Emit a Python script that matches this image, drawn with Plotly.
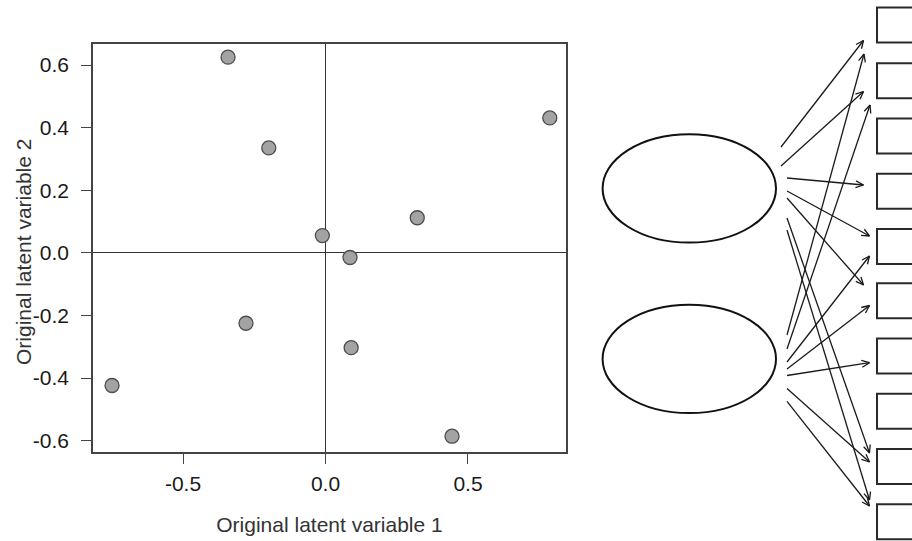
import numpy as np
import plotly.graph_objects as go

# ---------------- scatter data ----------------
latent1 = [-0.342, -0.199, 0.787, 0.322, -0.011, 0.086, -0.279, 0.090, -0.749, 0.444]
latent2 = [0.625, 0.335, 0.431, 0.112, 0.055, -0.015, -0.225, -0.303, -0.424, -0.586]

x_ticks = [-0.5, 0.0, 0.5]
x_tick_labels = ["-0.5", "0.0", "0.5"]
y_ticks = [-0.6, -0.4, -0.2, 0.0, 0.2, 0.4, 0.6]
y_tick_labels = ["-0.6", "-0.4", "-0.2", "0.0", "0.2", "0.4", "0.6"]

# ---------------- path-diagram geometry (pixel space) ----------------
factor_cy = [188.4, 358.9]
factor_cx = 689.3
factor_rx = 86.7
factor_ry = 54.2

indicator_tops = [7.6, 63.2, 118.5, 173.7, 229.0, 283.3, 338.5, 393.8, 449.0, 504.3]
indicator_h = 35.0
indicator_left = 877.0

arrow_x0 = [781, 781, 787, 787, 787, 787, 787, 787, 787, 787, 787, 787, 787, 787]
arrow_y0 = [147, 166, 178, 191, 198, 218, 230, 335, 349, 362, 369, 375.5, 388.6, 401.4]
arrow_x1 = [863.5, 863.5, 863.5, 869.5, 863.5, 869.5, 869.5, 864, 870, 869.5, 869.5, 869.5, 869.5, 869.5]
arrow_y1 = [40.5, 91.5, 185, 236, 285, 453, 500, 54, 105, 256, 305.5, 362.7, 462, 506]

W, H = 912, 541
box_l, box_r, box_t, box_b = 93, 566, 43.5, 452

fig = go.Figure()

fig.add_trace(go.Scatter(
    x=latent1, y=latent2, mode="markers",
    marker=dict(size=14, color="#a3a3a3", line=dict(color="#4d4d4d", width=1.3)),
    xaxis="x", yaxis="y", showlegend=False, hoverinfo="skip"))

# arrows: shafts + open heads computed from the arrays
sx, sy = [], []
hx, hy = [], []
L, ang = 8.5, np.deg2rad(24)
for x0, y0, x1, y1 in zip(arrow_x0, arrow_y0, arrow_x1, arrow_y1):
    sx += [x0, x1, None]
    sy += [y0, y1, None]
    d = np.array([x1 - x0, y1 - y0], dtype=float)
    d /= np.linalg.norm(d)
    for s in (1, -1):
        c, sn = np.cos(s * ang), np.sin(s * ang)
        r = np.array([c * d[0] - sn * d[1], sn * d[0] + c * d[1]])
        hx += [x1 - L * r[0], x1, None]
        hy += [y1 - L * r[1], y1, None]

fig.add_trace(go.Scatter(x=sx, y=sy, mode="lines", line=dict(color="#1a1a1a", width=1.3),
                         xaxis="x2", yaxis="y2", showlegend=False, hoverinfo="skip"))
fig.add_trace(go.Scatter(x=hx, y=hy, mode="lines", line=dict(color="#1a1a1a", width=1.3),
                         xaxis="x2", yaxis="y2", showlegend=False, hoverinfo="skip"))

shapes = []
for cy in factor_cy:
    shapes.append(dict(type="circle", xref="x2", yref="y2",
                       x0=factor_cx - factor_rx, x1=factor_cx + factor_rx,
                       y0=cy - factor_ry, y1=cy + factor_ry,
                       line=dict(color="#111111", width=2)))
for top in indicator_tops:
    shapes.append(dict(type="rect", xref="x2", yref="y2",
                       x0=indicator_left, x1=indicator_left + 60,
                       y0=top, y1=top + indicator_h,
                       line=dict(color="#2a2a2a", width=2)))

tickfont = dict(family="Liberation Sans, Arial, sans-serif", size=21, color="#1a1a1a")
titlefont = dict(family="Liberation Sans, Arial, sans-serif", size=21, color="#333333")

fig.update_layout(
    width=W, height=H,
    margin=dict(l=0, r=0, t=0, b=0),
    paper_bgcolor="white", plot_bgcolor="rgba(0,0,0,0)",
    shapes=shapes,
    xaxis=dict(domain=[box_l / W, box_r / W], range=[-0.8158, 0.8439],
               tickvals=x_ticks, ticktext=x_tick_labels, tickfont=tickfont,
               ticks="outside", ticklen=10, tickwidth=1.3, tickcolor="#444",
               ticklabelstandoff=2,
               showline=True, mirror=True, linecolor="#444", linewidth=1.5,
               showgrid=False, zeroline=True, zerolinecolor="#333", zerolinewidth=1,
               title=dict(text="Original latent variable 1", font=titlefont, standoff=23),
               anchor="y"),
    yaxis=dict(domain=[1 - box_b / H, 1 - box_t / H], range=[-0.6364, 0.6687],
               tickvals=y_ticks, ticktext=y_tick_labels, tickfont=tickfont,
               ticks="outside", ticklen=10, tickwidth=1.3, tickcolor="#444",
               ticklabelstandoff=8,
               showline=True, mirror=True, linecolor="#444", linewidth=1.5,
               showgrid=False, zeroline=True, zerolinecolor="#333", zerolinewidth=1,
               anchor="x"),
    xaxis2=dict(domain=[0, 1], range=[0, W], visible=False, fixedrange=True, anchor="y2"),
    yaxis2=dict(domain=[0, 1], range=[H, 0], visible=False, fixedrange=True, anchor="x2"),
    annotations=[dict(text="Original latent variable 2", font=titlefont, textangle=-90,
                      xref="paper", yref="paper", x=23 / W, y=1 - 252 / H,
                      xanchor="center", yanchor="middle", showarrow=False)],
)

fig.write_html("out.html", config={"displayModeBar": False},
               post_script="document.body.style.margin='0';")
